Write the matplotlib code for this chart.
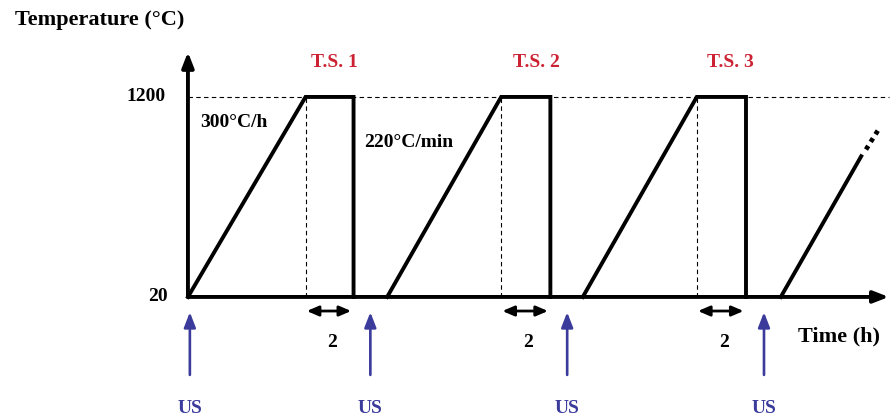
import matplotlib
matplotlib.use("Agg")
import matplotlib.pyplot as plt

# heat-treatment profile (schematic time units, temperature in °C)
cycle_starts = [0, 8.3, 16.45]
ramp_tops = [4.9, 13.05, 21.2]
hold_ends = [6.9, 15.1, 23.25]
last_ramp_time = [24.7, 28.05]
last_ramp_temp = [20, 850]
dots_time = [28.25, 28.78]
dots_temp = [890, 1010]

ts_labels = ["T.S. 1", "T.S. 2", "T.S. 3"]
ts_x = [6.1, 14.5, 22.6]
hold_label = "2"
us_x = [0.08, 7.6, 15.8, 24.0]

T_LOW, T_HIGH = 20, 1200
t_axis_end = 29.2
T_axis_end = 1465

navy = "#3b3b9c"
red = "#cc2233"
serif = ["Liberation Serif", "DejaVu Serif"]

fig = plt.figure(figsize=(8.9, 4.2), dpi=100)
ax = fig.add_axes([0, 0, 1, 1])
ax.set_xlim(-7.83, 29.25)
ax.set_ylim(-706, 1772)
ax.axis("off")

# dashed 1200 reference line
ax.plot([0, t_axis_end], [T_HIGH, T_HIGH], color="black", lw=0.8, ls=(0, (4, 3)))

# profile cycles
for t0, t1, t2 in zip(cycle_starts, ramp_tops, hold_ends):
    ax.plot([t0, t1, t2, t2], [T_LOW, T_HIGH, T_HIGH, T_LOW], color="black", lw=2.8,
            solid_joinstyle="miter")
    ax.plot([t1, t1], [T_LOW, T_HIGH], color="black", lw=0.8, ls=(0, (4, 3)))
ax.plot(last_ramp_time, last_ramp_temp, color="black", lw=2.8)
ax.plot(dots_time, dots_temp, color="black", lw=3.4, ls=(0, (0.9, 1.0)),
        dash_capstyle="butt")

# axes arrows
arrow = dict(arrowstyle="-|>,head_length=0.9,head_width=0.35", color="black", lw=2.8,
             shrinkA=0, shrinkB=0)
ax.annotate("", xy=(t_axis_end, T_LOW), xytext=(0, T_LOW), arrowprops=arrow)
ax.annotate("", xy=(0, T_axis_end), xytext=(0, T_LOW), arrowprops=arrow)

# hold duration markers
dbl = dict(arrowstyle="<|-|>,head_length=0.7,head_width=0.3", color="black", lw=2.0,
           shrinkA=0, shrinkB=0)
for t1, t2 in zip(ramp_tops, hold_ends):
    ax.annotate("", xy=(t1 + 0.05, -63), xytext=(t2 - 0.1, -63), arrowprops=dbl)
    ax.text((t1 + t2) / 2 + 0.1, -250, hold_label, ha="center", va="center",
            fontsize=14, fontweight="bold", family=serif)

# ultrasound arrows
us_arrow = dict(arrowstyle="-|>,head_length=0.9,head_width=0.35", color=navy, lw=1.9,
                shrinkA=0, shrinkB=0)
for x in us_x:
    ax.annotate("", xy=(x, -70), xytext=(x, -440), arrowprops=us_arrow)
    ax.text(x, -640, "US", ha="center", va="center", color=navy,
            fontsize=14, fontweight="bold", family=serif)

for x, lab in zip(ts_x, ts_labels):
    ax.text(x, 1406, lab, ha="center", va="center", color=red,
            fontsize=14, fontweight="bold", family=serif)

ax.text(-7.2, 1654, "Temperature (°C)", ha="left", va="center",
        fontsize=16, fontweight="bold", family=serif)
ax.text(25.4, -216, "Time (h)", ha="left", va="center",
        fontsize=16, fontweight="bold", family=serif)
ax.text(-0.95, T_HIGH, "1200", ha="right", va="center",
        fontsize=14, fontweight="bold", family=serif)
ax.text(-0.85, T_LOW, "20", ha="right", va="center",
        fontsize=14, fontweight="bold", family=serif)
ax.text(0.5, 1052, "300°C/h", ha="left", va="center",
        fontsize=14, fontweight="bold", family=serif)
ax.text(7.35, 929, "220°C/min", ha="left", va="center",
        fontsize=14, fontweight="bold", family=serif)

fig.savefig("out.png", dpi=100)
